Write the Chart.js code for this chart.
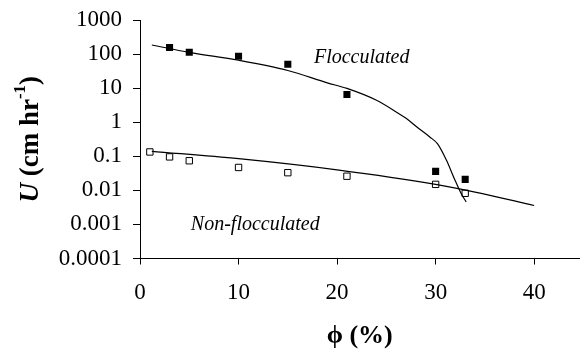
<!DOCTYPE html>
<html>
<head>
<meta charset="utf-8">
<script src="https://cdn.jsdelivr.net/npm/chart.js@4.4.1/dist/chart.umd.min.js"></script>
<style>
  html, body { margin: 0; padding: 0; background: #fff; }
  #wrap { width: 585px; height: 352px; }
</style>
</head>
<body>
<div id="wrap"><canvas id="chart" width="585" height="352"></canvas></div>
<script>
//-------------------------- Data --------------------------//
// measured points
const phiFloc = [3, 5, 10, 15, 21, 30, 33];
const uFloc = [155, 113, 86, 50, 6.5, 0.036, 0.021];
const phiNonFloc = [1, 3, 5, 10, 15, 21, 30, 33];
const uNonFloc = [0.134, 0.096, 0.074, 0.047, 0.033, 0.026, 0.015, 0.0082];

// fitted curves
const phiFlocFit = [1.2, 5, 10, 15, 19, 21, 24, 26, 27, 28.1, 29.4, 30.2, 31.1, 31.9, 32.6, 33.1];
const uFlocFit = [185, 112, 66, 33, 14.3, 9.8, 4.4, 2.0, 1.3, 0.72, 0.37, 0.23, 0.076, 0.022, 0.008, 0.0046];
const phiNonFlocFit = [1.2, 10, 20, 30, 34, 40];
const uNonFlocFit = [0.14, 0.085, 0.04, 0.015, 0.0089, 0.0036];

// axes
const xTickValues = [0, 10, 20, 30, 40];
const yTickValues = [0.0001, 0.001, 0.01, 0.1, 1, 10, 100, 1000];
const yTickLabels = ['0.0001', '0.001', '0.01', '0.1', '1', '10', '100', '1000'];

// text on the plot
const curveNames = ['Flocculated', 'Non-flocculated'];
const curveNamePhi = [22.5, 11.7];
const curveNameU = [80, 0.001];
//------------------------------------------------------------------//

const toXY = (xs, ys) => xs.map((v, i) => ({x: v, y: ys[i]}));
const SERIF = '"Liberation Serif", "Times New Roman", serif';

// curve names and the y title (it has a superscript)
const textPlugin = {
  id: 'textPlugin',
  afterDraw(chart) {
    const ctx = chart.ctx;
    const x = chart.scales.x, y = chart.scales.y;
    ctx.save();
    ctx.fillStyle = '#000';
    ctx.font = 'italic 20px ' + SERIF;
    ctx.textAlign = 'center';
    ctx.textBaseline = 'middle';
    curveNames.forEach((t, i) => {
      ctx.fillText(t, x.getPixelForValue(curveNamePhi[i]), y.getPixelForValue(curveNameU[i]));
    });

    // y title
    const parts = [
      {t: 'U', f: 'italic bold 27px ' + SERIF, dy: 0},
      {t: ' (cm hr', f: 'bold 27px ' + SERIF, dy: 0},
      {t: '-1', f: 'bold 17px ' + SERIF, dy: -10},
      {t: ')', f: 'bold 27px ' + SERIF, dy: 0}
    ];
    let total = 0;
    parts.forEach(p => { ctx.font = p.f; p.w = ctx.measureText(p.t).width; total += p.w; });
    const area = chart.chartArea;
    ctx.translate(31, (area.top + area.bottom) / 2);
    ctx.rotate(-Math.PI / 2);
    ctx.textAlign = 'left';
    ctx.textBaseline = 'middle';
    let pos = -total / 2;
    parts.forEach(p => {
      ctx.font = p.f;
      ctx.fillText(p.t, pos, p.dy);
      pos += p.w;
    });
    ctx.restore();
  }
};

const config = {
  type: 'scatter',
  data: {
    datasets: [
      {
        data: toXY(phiFlocFit, uFlocFit),
        showLine: true,
        borderColor: '#000',
        borderWidth: 1.2,
        pointRadius: 0,
        cubicInterpolationMode: 'monotone'
      },
      {
        data: toXY(phiNonFlocFit, uNonFlocFit),
        showLine: true,
        borderColor: '#000',
        borderWidth: 1.2,
        pointRadius: 0,
        cubicInterpolationMode: 'monotone'
      },
      {
        data: toXY(phiFloc, uFloc),
        pointStyle: 'rect',
        pointRadius: 5,
        backgroundColor: '#000',
        borderColor: '#000',
        borderWidth: 0
      },
      {
        data: toXY(phiNonFloc, uNonFloc),
        pointStyle: 'rect',
        pointRadius: 4.5,
        backgroundColor: '#fff',
        borderColor: '#000',
        borderWidth: 1
      }
    ]
  },
  options: {
    responsive: false,
    animation: false,
    layout: { padding: { top: 20, right: 0, left: 0, bottom: 0 } },
    plugins: {
      legend: { display: false },
      tooltip: { enabled: false }
    },
    scales: {
      x: {
        type: 'linear',
        min: 0,
        max: 44.6,
        afterBuildTicks: (scale) => { scale.ticks = xTickValues.map(v => ({value: v})); },
        afterFit: (scale) => { scale.height = 93.5; },
        grid: { display: true, drawOnChartArea: false, drawTicks: true, tickLength: 6, color: '#000' },
        border: { display: true, color: '#000', width: 1 },
        ticks: { color: '#000', font: { family: SERIF, size: 23 }, padding: 15, maxRotation: 0 },
        title: { display: true, text: 'ϕ (%)', color: '#000', font: { family: SERIF, size: 26, weight: 'bold' }, padding: { top: 0, bottom: 0 } }
      },
      y: {
        type: 'logarithmic',
        min: 0.0001,
        max: 1000,
        afterBuildTicks: (scale) => { scale.ticks = yTickValues.map(v => ({value: v})); },
        afterFit: (scale) => { scale.width = 140; },
        grid: { display: true, drawOnChartArea: false, drawTicks: true, tickLength: 7, color: '#000' },
        border: { display: true, color: '#000', width: 1 },
        ticks: {
          color: '#000',
          font: { family: SERIF, size: 23, lineHeight: 0.6 },
          padding: 11,
          callback: (v) => yTickLabels[yTickValues.indexOf(v)]
        }
      }
    }
  },
  plugins: [textPlugin]
};

const chart = new Chart(document.getElementById('chart'), config);
</script>
</body>
</html>
